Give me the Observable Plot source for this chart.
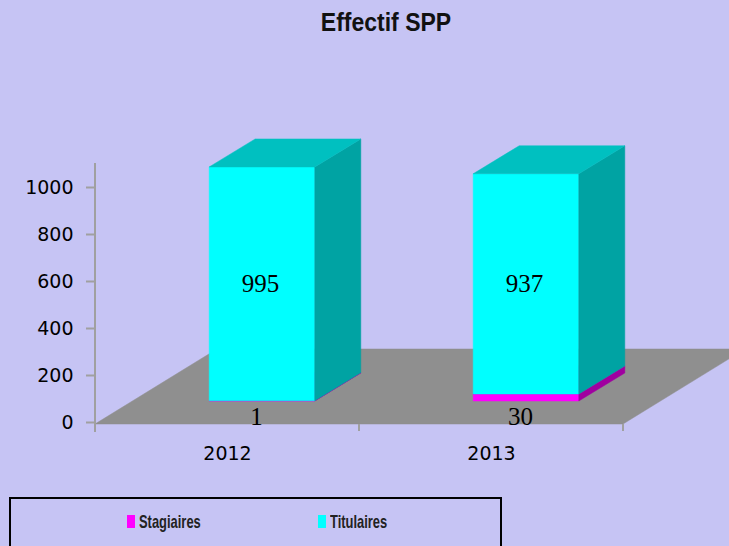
<!DOCTYPE html>
<html>
<head>
<meta charset="utf-8">
<script src="https://cdn.jsdelivr.net/npm/d3@7"></script>
<script src="https://cdn.jsdelivr.net/npm/@observablehq/plot@0.6"></script>
<style>
  html, body { margin: 0; padding: 0; }
  body { width: 729px; height: 546px; overflow: hidden; background: rgb(198,196,244); position: relative; }
  #title { position: absolute; left: 386px; top: 9px; transform: translateX(-50%) scaleX(0.92);
    font-family: "Liberation Sans", Arial, sans-serif;
    font-weight: bold; font-size: 25px; line-height: 26px; color: #111; white-space: nowrap; }
  #chart { position: absolute; left: 0; top: 44px; }
  #legend { position: absolute; left: 9px; top: 497px; width: 489px; height: 70px; border: 2px solid #000; }
  .item { position: absolute; top: 16px; height: 16px; }
  .sw { position: absolute; top: 0; width: 8px; height: 13px; }
  .lab { position: absolute; left: 12px; top: -3px; font-family: "Liberation Sans", Arial, sans-serif;
    transform: scaleX(0.68); transform-origin: 0 50%;
    font-weight: bold; font-size: 19px; line-height: 19px; color: #222; white-space: nowrap; }
</style>
</head>
<body>
<div id="title">Effectif SPP</div>
<div id="chart"></div>
<div id="legend"></div>
<script>
// ---- data ----
const categories = ["2012", "2013"];
const seriesNames = ["Stagiaires", "Titulaires"];
const stagiaires = [1, 30];
const titulaires = [995, 937];
const yTicks = [0, 200, 400, 600, 800, 1000];

// ---- styles ----
const faceColors = {
  Stagiaires: {front: "#ff00ff", side: "#a000a0", top: "#c000c0"},
  Titulaires: {front: "#00ffff", side: "#00a3a3", top: "#00c0c0"}
};
const floorColor = "#8f8f8f";
const axisColor = "#a0a0a0";

// stacked rows
const rows = [];
categories.forEach((c, i) => {
  let base = 0;
  [["Stagiaires", stagiaires[i]], ["Titulaires", titulaires[i]]].forEach(([s, v]) => {
    rows.push({category: c, i, series: s, value: v, y1: base, y2: base + v});
    base += v;
  });
});

// 3D projection offsets (pixels)
const FRONT_DX = 35, FRONT_DY = -21;   // bar front plane relative to floor front edge
const DEPTH_DX = 46, DEPTH_DY = -28;   // bar depth
const FLOOR_DX = 122, FLOOR_DY = -75;  // floor depth
const BAR_HALF = 0.2;                  // half bar width in category units
const WALL_TOP = 1102;                 // height of the back wall (value units)

function scene(index, scales) {
  const {x, y} = scales;
  const g = d3.create("svg:g");
  const poly = (pts, fill) => g.append("polygon")
    .attr("points", pts.map(p => p.join(",")).join(" "))
    .attr("fill", fill).attr("stroke", fill).attr("stroke-width", 0.5);
  // floor
  const fy = y(0) + 2, fxl = x(0), fxr = x(categories.length);
  poly([[fxl, fy], [fxr, fy], [fxr + FLOOR_DX, fy + FLOOR_DY], [fxl + FLOOR_DX, fy + FLOOR_DY]], floorColor);
  // category ticks
  d3.range(categories.length + 1).forEach(t => {
    g.append("line").attr("x1", x(t)).attr("x2", x(t)).attr("y1", fy).attr("y2", fy + 7)
      .attr("stroke", axisColor).attr("stroke-width", 2);
  });
  // value axis line
  g.append("line").attr("x1", x(0)).attr("x2", x(0)).attr("y1", y(0) + 10).attr("y2", y(WALL_TOP))
    .attr("stroke", axisColor).attr("stroke-width", 2);
  // bars
  rows.forEach(r => {
    const cx = x(r.i + 0.5) + FRONT_DX;
    const hw = x(BAR_HALF) - x(0);
    const xl = cx - hw, xr = cx + hw;
    const yb = y(r.y1) + FRONT_DY, yt = y(r.y2) + FRONT_DY;
    const col = faceColors[r.series];
    poly([[xl, yt], [xr, yt], [xr, yb], [xl, yb]], col.front);
    poly([[xr, yb], [xr + DEPTH_DX, yb + DEPTH_DY], [xr + DEPTH_DX, yt + DEPTH_DY], [xr, yt]], col.side);
    poly([[xl, yt], [xr, yt], [xr + DEPTH_DX, yt + DEPTH_DY], [xl + DEPTH_DX, yt + DEPTH_DY]], col.top);
  });
  return g.node();
}

const chart = Plot.plot({
  width: 729,
  height: 446,
  marginTop: 143,
  marginBottom: 68,
  marginLeft: 95,
  marginRight: 106,
  style: {background: "transparent", overflow: "visible"},
  x: {type: "linear", domain: [0, categories.length], axis: null},
  y: {type: "linear", domain: [0, 1000], axis: null},
  marks: [
    scene,
    Plot.axisY(yTicks, {
      tickSize: 9, tickPadding: 13, tickFormat: d => String(d),
      stroke: axisColor, strokeWidth: 2, fill: "#000",
      fontSize: 19, fontFamily: "DejaVu Sans", label: null
    }),
    Plot.text(rows.filter(r => r.series === "Titulaires"), {
      x: r => r.i + 0.5, y: r => (r.y1 + r.y2) / 2, text: r => String(r.value),
      dx: FRONT_DX - 2, dy: FRONT_DY, fontSize: 25, fontFamily: "Liberation Serif", fill: "#000"
    }),
    Plot.text(rows.filter(r => r.series === "Stagiaires"), {
      x: r => r.i + 0.5, y: 0, text: r => String(r.value),
      dx: FRONT_DX - 6, dy: -6, fontSize: 25, fontFamily: "Liberation Serif", fill: "#000"
    }),
    Plot.text(categories, {
      x: (d, i) => i + 0.5, y: 0, text: d => d,
      dy: 31, fontSize: 19, fontFamily: "DejaVu Sans", fill: "#000"
    })
  ]
});
document.getElementById("chart").appendChild(chart);

// legend
const legend = document.getElementById("legend");
const legendX = [116, 307];
seriesNames.forEach((s, k) => {
  const item = document.createElement("div");
  item.className = "item";
  item.style.left = legendX[k] + "px";
  const sw = document.createElement("div");
  sw.className = "sw";
  sw.style.background = faceColors[s].front;
  const lab = document.createElement("div");
  lab.className = "lab";
  lab.textContent = s;
  item.appendChild(sw); item.appendChild(lab);
  legend.appendChild(item);
});
</script>
</body>
</html>
